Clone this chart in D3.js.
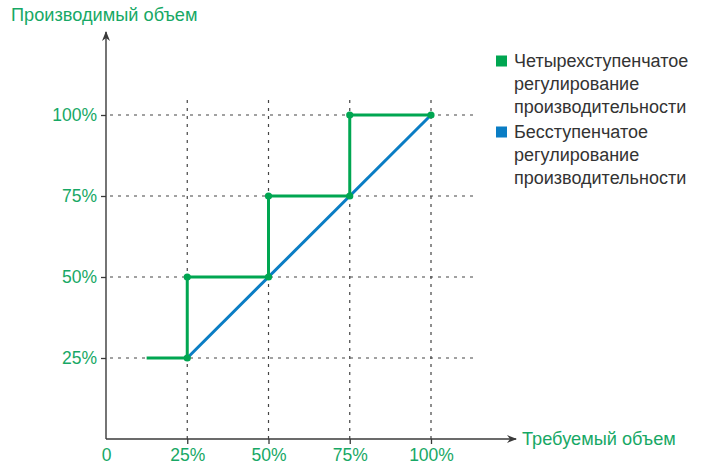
<!DOCTYPE html>
<html>
<head>
<meta charset="utf-8">
<script src="https://cdn.jsdelivr.net/npm/d3@7"></script>
<style>
  html, body { margin: 0; padding: 0; background: #fff; }
  svg { display: block; font-family: "Liberation Sans", Arial, sans-serif; }
</style>
</head>
<body>
<svg id="chart" width="709" height="466"></svg>
<script>
// Tick values on both axes (percent of capacity)
const tickValues = [25, 50, 75, 100];
const xTickLabels = ["0", "25%", "50%", "75%", "100%"];
const yTickLabels = ["25%", "50%", "75%", "100%"];

// Four-step capacity control: required load -> produced output
const stepX = [12.5, 25, 25, 50, 50, 75, 75, 100];
const stepY = [25, 25, 50, 50, 75, 75, 100, 100];
// Points marked on the stepped line
const dotX = [25, 25, 50, 50, 75, 75, 100];
const dotY = [25, 50, 50, 75, 75, 100, 100];

// Stepless capacity control
const linearX = [25, 100];
const linearY = [25, 100];

const legendItems = [
  { color: "#00a651", lines: ["Четырехступенчатое", "регулирование", "производительности"] },
  { color: "#0a7dc4", lines: ["Бесступенчатое", "регулирование", "производительности"] }
];

const green = "#00a651";
const blue = "#0a7dc4";
const textGreen = "#17a865";
const axisColor = "#3a3a3a";

const svg = d3.select("#chart");

const x = d3.scaleLinear().domain([0, 100]).range([106, 431]);
const y = d3.scaleLinear().domain([0, 100]).range([439, 115]);

// Dashed grid
const grid = svg.append("g");
tickValues.forEach(v => {
  grid.append("line")
    .attr("x1", x(0) + 4).attr("x2", 474)
    .attr("y1", y(v)).attr("y2", y(v))
    .attr("stroke", "#444").attr("stroke-width", 1.2)
    .attr("stroke-dasharray", "3,5");
  grid.append("line")
    .attr("x1", x(v)).attr("x2", x(v))
    .attr("y1", 100).attr("y2", y(0))
    .attr("stroke", "#444").attr("stroke-width", 1.2)
    .attr("stroke-dasharray", "3,5");
});

// Axes
const xAxis = d3.axisBottom(x).tickValues([0].concat(tickValues))
  .tickSize(5).tickPadding(5)
  .tickFormat((d, i) => xTickLabels[i]);
const gx = svg.append("g").attr("transform", `translate(0,${y(0)})`).call(xAxis);
gx.select(".domain").remove();
gx.selectAll(".tick line").attr("stroke", axisColor).attr("stroke-width", 1.3);
gx.selectAll(".tick").filter(d => d === 0).select("line").remove();
gx.selectAll("text").attr("fill", textGreen).attr("font-size", 17.5)
  .attr("font-family", "Liberation Sans, Arial, sans-serif");

const yAxis = d3.axisLeft(y).tickValues(tickValues)
  .tickSize(5).tickPadding(4)
  .tickFormat((d, i) => yTickLabels[i]);
const gy = svg.append("g").attr("transform", `translate(${x(0)},0)`).call(yAxis);
gy.select(".domain").remove();
gy.selectAll(".tick line").attr("stroke", axisColor).attr("stroke-width", 1.3);
gy.selectAll("text").attr("fill", textGreen).attr("font-size", 17.5)
  .attr("font-family", "Liberation Sans, Arial, sans-serif");

// Axis lines with arrowheads
const defs = svg.append("defs");
defs.append("marker").attr("id", "arrow")
  .attr("viewBox", "0 0 10 10").attr("refX", 9).attr("refY", 5)
  .attr("markerWidth", 10).attr("markerHeight", 10)
  .attr("markerUnits", "userSpaceOnUse")
  .attr("orient", "auto")
  .append("path").attr("d", "M0,1 L10,5 L0,9 L3,5 Z").attr("fill", axisColor);

svg.append("line")
  .attr("x1", x(0)).attr("y1", y(0)).attr("x2", 516).attr("y2", y(0))
  .attr("stroke", axisColor).attr("stroke-width", 1.4)
  .attr("marker-end", "url(#arrow)");
svg.append("line")
  .attr("x1", x(0)).attr("y1", y(0)).attr("x2", x(0)).attr("y2", 32)
  .attr("stroke", axisColor).attr("stroke-width", 1.4)
  .attr("marker-end", "url(#arrow)");

// Axis titles
svg.append("text").attr("x", 11).attr("y", 21)
  .attr("fill", textGreen).attr("font-size", 18.2)
  .text("Производимый объем");
svg.append("text").attr("x", 522).attr("y", 445)
  .attr("fill", textGreen).attr("font-size", 18.2)
  .text("Требуемый объем");

// Stepless line
const line = d3.line().x(d => x(d[0])).y(d => y(d[1]));
svg.append("path")
  .datum(d3.zip(linearX, linearY))
  .attr("d", line)
  .attr("fill", "none").attr("stroke", blue).attr("stroke-width", 3);

// Four-step line
svg.append("path")
  .datum(d3.zip(stepX, stepY))
  .attr("d", line)
  .attr("fill", "none").attr("stroke", green).attr("stroke-width", 3)
  .attr("stroke-linejoin", "miter");

svg.append("g").selectAll("circle")
  .data(d3.zip(dotX, dotY))
  .join("circle")
  .attr("cx", d => x(d[0])).attr("cy", d => y(d[1]))
  .attr("r", 3.6).attr("fill", green);

// Legend
const legend = svg.append("g");
let ly = 67;
legendItems.forEach(item => {
  legend.append("rect").attr("x", 496).attr("y", ly - 11.5)
    .attr("width", 11).attr("height", 11).attr("fill", item.color);
  item.lines.forEach((t, i) => {
    legend.append("text").attr("x", 514).attr("y", ly + i * 23)
      .attr("fill", "#333").attr("font-size", 18)
      .text(t);
  });
  ly += 3 * 23 + 2;
});
</script>
</body>
</html>
